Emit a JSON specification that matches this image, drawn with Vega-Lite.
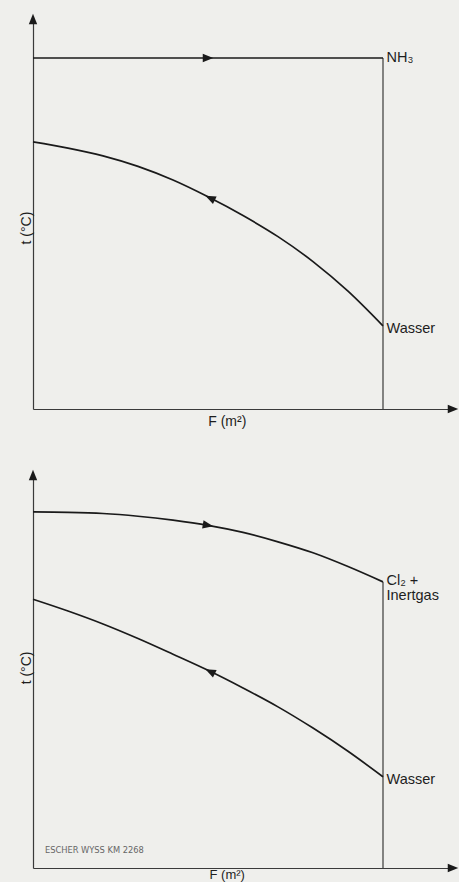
{
  "$schema": "https://vega.github.io/schema/vega-lite/v6.json",
  "background": "#efefec",
  "padding": {"left": 20, "top": 13, "right": 0, "bottom": 0},
  "bounds": "flush",
  "spacing": 66,
  "config": {
    "view": {"stroke": null},
    "axis": {"domain": true, "domainColor": "#3a3a3a", "domainWidth": 1.2, "ticks": false, "labels": false, "grid": false, "title": null},
    "text": {"font": "Liberation Sans", "color": "#1e1e1e"}
  },
  "datasets": {
    "top_nh3": [{"F": 0, "t": 90}, {"F": 10, "t": 90}],
    "top_wasser": [
      {"F": 0, "t": 68.5}, {"F": 1, "t": 66.9}, {"F": 2, "t": 64.9}, {"F": 3, "t": 62.2},
      {"F": 4, "t": 58.7}, {"F": 5, "t": 54.4}, {"F": 6, "t": 49.6}, {"F": 7, "t": 44.2},
      {"F": 8, "t": 37.8}, {"F": 9, "t": 30.2}, {"F": 10, "t": 21.3}
    ],
    "top_vline": [{"F": 10, "t": 0, "t2": 90}],
    "top_labels": [{"F": 10, "t": 89.0, "label": "NH₃"}, {"F": 10, "t": 19.6, "label": "Wasser"}],
    "top_xtitle": [{"F": 5.55, "t": 0, "label": "F (m²)"}],
    "top_ytitle": [{"F": 0, "t": 46.4, "label": "t (°C)"}],
    "top_arrow_nh3": [{"F": 5.0, "t": 90}],
    "top_arrow_wasser": [{"F": 5.06, "t": 54.1}],
    "bot_cl2": [
      {"F": 0, "t": 90.6}, {"F": 1, "t": 90.5}, {"F": 2, "t": 90.2}, {"F": 3, "t": 89.5},
      {"F": 4, "t": 88.5}, {"F": 5, "t": 87.2}, {"F": 6, "t": 85.4}, {"F": 7, "t": 83.0},
      {"F": 8, "t": 80.2}, {"F": 9, "t": 76.7}, {"F": 10, "t": 72.8}
    ],
    "bot_wasser": [
      {"F": 0, "t": 68.4}, {"F": 1, "t": 65.4}, {"F": 2, "t": 62.1}, {"F": 3, "t": 58.4},
      {"F": 4, "t": 54.4}, {"F": 5, "t": 50.3}, {"F": 6, "t": 45.8}, {"F": 7, "t": 41.0},
      {"F": 8, "t": 35.6}, {"F": 9, "t": 29.7}, {"F": 10, "t": 23.2}
    ],
    "bot_vline": [{"F": 10, "t": 0, "t2": 72.8}],
    "bot_labels": [
      {"F": 10, "t": 72.0, "label": "Cl₂ +"},
      {"F": 10, "t": 68.2, "label": "Inertgas"},
      {"F": 10, "t": 21.4, "label": "Wasser"}
    ],
    "bot_xtitle": [{"F": 5.55, "t": 0, "label": "F (m²)"}],
    "bot_ytitle": [{"F": 0, "t": 50.9, "label": "t (°C)"}],
    "bot_note": [{"F": 0.34, "t": 3.8, "label": "ESCHER WYSS KM 2268"}],
    "bot_arrow_cl2": [{"F": 5.0, "t": 87.2}],
    "bot_arrow_wasser": [{"F": 5.06, "t": 50.0}],
    "axis_right": [{"F": 12, "t": 0}],
    "axis_up": [{"F": 0, "t": 100}]
  },
  "vconcat": [
    {
      "width": 420,
      "height": 390,
      "encoding": {
        "x": {"field": "F", "type": "quantitative", "scale": {"domain": [0, 12], "nice": false, "zero": false}},
        "y": {"field": "t", "type": "quantitative", "scale": {"domain": [0, 100], "nice": false, "zero": false}}
      },
      "layer": [
        {"data": {"name": "top_vline"}, "mark": {"type": "rule", "color": "#3a3a3a", "strokeWidth": 1.2}, "encoding": {"y2": {"field": "t2"}}},
        {"data": {"name": "top_nh3"}, "mark": {"type": "line", "color": "#1a1a1a", "strokeWidth": 1.7}, "encoding": {}},
        {"data": {"name": "top_wasser"}, "mark": {"type": "line", "color": "#1a1a1a", "strokeWidth": 1.7, "interpolate": "monotone"}, "encoding": {}},
        {"data": {"name": "axis_right"}, "mark": {"type": "point", "shape": "M-1,-0.8L1,0L-1,0.8Z", "size": 110, "filled": true, "opacity": 1, "color": "#1a1a1a", "strokeWidth": 0}},
        {"data": {"name": "axis_up"}, "mark": {"type": "point", "shape": "M-0.8,1L0,-1L0.8,1Z", "size": 110, "filled": true, "opacity": 1, "color": "#1a1a1a", "strokeWidth": 0}},
        {"data": {"name": "top_arrow_nh3"}, "mark": {"type": "point", "shape": "M-1,-0.8L1,0L-1,0.8Z", "size": 110, "filled": true, "opacity": 1, "color": "#1a1a1a", "strokeWidth": 0}},
        {"data": {"name": "top_arrow_wasser"}, "mark": {"type": "point", "shape": "M1,-0.8L-1,0L1,0.8Z", "size": 110, "angle": 26, "filled": true, "opacity": 1, "color": "#1a1a1a", "strokeWidth": 0}},
        {"data": {"name": "top_labels"}, "mark": {"type": "text", "align": "left", "baseline": "alphabetic", "dx": 3.5, "fontSize": 14.5}, "encoding": {"text": {"field": "label"}}},
        {"data": {"name": "top_xtitle"}, "mark": {"type": "text", "align": "center", "baseline": "alphabetic", "dy": 17, "fontSize": 14}, "encoding": {"text": {"field": "label"}}},
        {"data": {"name": "top_ytitle"}, "mark": {"type": "text", "align": "center", "baseline": "alphabetic", "angle": 270, "dy": -2, "fontSize": 14}, "encoding": {"text": {"field": "label"}}}
      ]
    },
    {
      "width": 420,
      "height": 393,
      "encoding": {
        "x": {"field": "F", "type": "quantitative", "scale": {"domain": [0, 12], "nice": false, "zero": false}},
        "y": {"field": "t", "type": "quantitative", "scale": {"domain": [0, 100], "nice": false, "zero": false}}
      },
      "layer": [
        {"data": {"name": "bot_vline"}, "mark": {"type": "rule", "color": "#3a3a3a", "strokeWidth": 1.2}, "encoding": {"y2": {"field": "t2"}}},
        {"data": {"name": "bot_cl2"}, "mark": {"type": "line", "color": "#1a1a1a", "strokeWidth": 1.7, "interpolate": "monotone"}, "encoding": {}},
        {"data": {"name": "bot_wasser"}, "mark": {"type": "line", "color": "#1a1a1a", "strokeWidth": 1.7, "interpolate": "monotone"}, "encoding": {}},
        {"data": {"name": "axis_right"}, "mark": {"type": "point", "shape": "M-1,-0.8L1,0L-1,0.8Z", "size": 110, "filled": true, "opacity": 1, "color": "#1a1a1a", "strokeWidth": 0}},
        {"data": {"name": "axis_up"}, "mark": {"type": "point", "shape": "M-0.8,1L0,-1L0.8,1Z", "size": 110, "filled": true, "opacity": 1, "color": "#1a1a1a", "strokeWidth": 0}},
        {"data": {"name": "bot_arrow_cl2"}, "mark": {"type": "point", "shape": "M-1,-0.8L1,0L-1,0.8Z", "size": 110, "angle": 10, "filled": true, "opacity": 1, "color": "#1a1a1a", "strokeWidth": 0}},
        {"data": {"name": "bot_arrow_wasser"}, "mark": {"type": "point", "shape": "M1,-0.8L-1,0L1,0.8Z", "size": 110, "angle": 26, "filled": true, "opacity": 1, "color": "#1a1a1a", "strokeWidth": 0}},
        {"data": {"name": "bot_labels"}, "mark": {"type": "text", "align": "left", "baseline": "alphabetic", "dx": 3.5, "fontSize": 14.5}, "encoding": {"text": {"field": "label"}}},
        {"data": {"name": "bot_xtitle"}, "mark": {"type": "text", "align": "center", "baseline": "alphabetic", "dy": 11, "fontSize": 13}, "encoding": {"text": {"field": "label"}}},
        {"data": {"name": "bot_ytitle"}, "mark": {"type": "text", "align": "center", "baseline": "alphabetic", "angle": 270, "dy": -2, "fontSize": 14}, "encoding": {"text": {"field": "label"}}},
        {"data": {"name": "bot_note"}, "mark": {"type": "text", "align": "left", "baseline": "alphabetic", "font": "DejaVu Sans", "fontSize": 8.3, "color": "#666666"}, "encoding": {"text": {"field": "label"}}}
      ]
    }
  ]
}
